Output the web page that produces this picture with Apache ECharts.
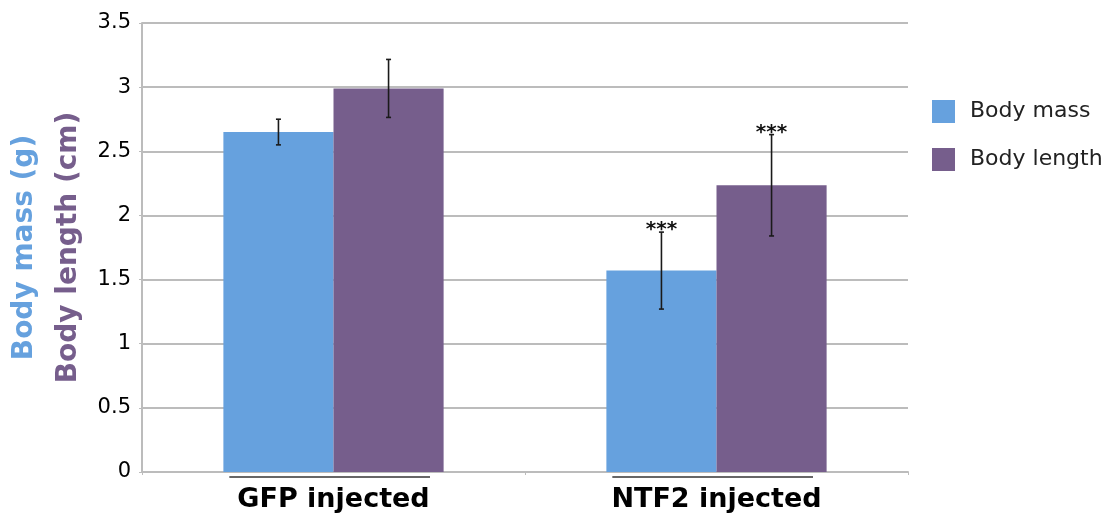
<!DOCTYPE html>
<html>
<head>
<meta charset="utf-8">
<script src="https://cdn.jsdelivr.net/npm/echarts@6/dist/echarts.min.js"></script>
<style>html,body{margin:0;padding:0;background:#fff}#c{width:1112px;height:516px}</style>
</head>
<body>
<div id="c"></div>
<script>
const categories = ['GFP injected', 'NTF2 injected'];
const massMean = [2.65, 1.57];
const massErr = [0.10, 0.30];
const massSig = ['', '***'];
const lengthMean = [2.99, 2.235];
const lengthErr = [0.226, 0.395];
const lengthSig = ['', '***'];
const yTicks = { min: 0, max: 3.5, interval: 0.5 };

const BLUE = '#66a1de';
const PURPLE = '#765e8c';
const GRID = '#bcbcbc';
const FONT = 'DejaVu Sans';
const CAT_GAP = 0.425;

function errData(mean, err, sig) {
  return mean.map((m, i) => [i, m - err[i], m + err[i], sig[i]]);
}
function errRender(sign) {
  return function (params, api) {
    const cat = api.value(0);
    const band = api.size([1, 0])[0];
    const off = sign * band * (1 - CAT_GAP) / 4;
    const top = api.coord([cat, api.value(2)]);
    const bot = api.coord([cat, api.value(1)]);
    const x = top[0] + off;
    const st = { stroke: '#1a1a1a', lineWidth: 1.6 };
    const children = [
      { type: 'line', shape: { x1: x, y1: top[1], x2: x, y2: bot[1] }, style: st },
      { type: 'line', shape: { x1: x - 2.5, y1: top[1], x2: x + 2.5, y2: top[1] }, style: st },
      { type: 'line', shape: { x1: x - 2.5, y1: bot[1], x2: x + 2.5, y2: bot[1] }, style: st }
    ];
    const sig = api.value(3);
    if (sig) {
      children.push({ type: 'text', style: { text: sig, x: x, y: top[1] - 2, align: 'center', verticalAlign: 'middle', fontFamily: FONT, fontSize: 20, fontWeight: 'bold', fill: '#111' } });
    }
    return { type: 'group', children: children };
  };
}

const chart = echarts.init(document.getElementById('c'), null, { renderer: 'canvas' });
chart.setOption({
  animation: false,
  grid: { left: 142, right: 204, top: 23, bottom: 44 },
  legend: {
    orient: 'vertical', left: 932, top: 100, padding: 0,
    itemWidth: 23, itemHeight: 23, itemGap: 25, icon: 'rect',
    textStyle: { fontFamily: FONT, fontSize: 22, color: '#222', padding: [0, 0, 0, 10] },
    data: ['Body mass', 'Body length']
  },
  xAxis: {
    type: 'category', data: categories,
    axisLine: { lineStyle: { color: GRID, width: 2 } },
    axisTick: { show: true, length: 3, lineStyle: { color: GRID } },
    axisLabel: { fontFamily: FONT, fontSize: 27, fontWeight: 'bold', color: '#000', margin: 14 }
  },
  yAxis: {
    type: 'value', min: yTicks.min, max: yTicks.max, interval: yTicks.interval,
    axisLine: { show: true, lineStyle: { color: GRID, width: 2 } },
    axisTick: { show: true, length: 3, lineStyle: { color: GRID } },
    splitLine: { lineStyle: { color: GRID, width: 2 } },
    axisLabel: { fontFamily: FONT, fontSize: 21, color: '#000', margin: 11 },
    name: '{a|Body mass (g)}\n{b|Body length (cm)}',
    nameLocation: 'middle', nameRotate: 90, nameGap: 51,
    nameTextStyle: {
      rich: {
        a: { fontFamily: FONT, fontSize: 28, fontWeight: 'bold', color: BLUE, lineHeight: 44 },
        b: { fontFamily: FONT, fontSize: 28, fontWeight: 'bold', color: PURPLE, lineHeight: 44 }
      }
    }
  },
  series: [
    { name: 'Body mass', type: 'bar', data: massMean, itemStyle: { color: BLUE }, barGap: '0%', barCategoryGap: (CAT_GAP * 100) + '%' },
    { name: 'Body length', type: 'bar', data: lengthMean, itemStyle: { color: PURPLE }, barGap: '0%', barCategoryGap: (CAT_GAP * 100) + '%' },
    { type: 'custom', z: 5, data: errData(massMean, massErr, massSig), renderItem: errRender(-1), encode: { x: 0, y: [1, 2] } },
    { type: 'custom', z: 5, data: errData(lengthMean, lengthErr, lengthSig), renderItem: errRender(1), encode: { x: 0, y: [1, 2] } },
    {
      type: 'custom', z: 5, clip: false, data: categories.map((c, i) => [i, 0]),
      encode: { x: 0, y: 1 },
      renderItem: function (params, api) {
        const band = api.size([1, 0])[0];
        const p = api.coord([api.value(0), 0]);
        return { type: 'line', shape: { x1: p[0] - band * 0.272, y1: p[1] + 5, x2: p[0] + band * 0.252, y2: p[1] + 5 }, style: { stroke: '#333', lineWidth: 1.6 } };
      }
    }
  ]
});
</script>
</body>
</html>
